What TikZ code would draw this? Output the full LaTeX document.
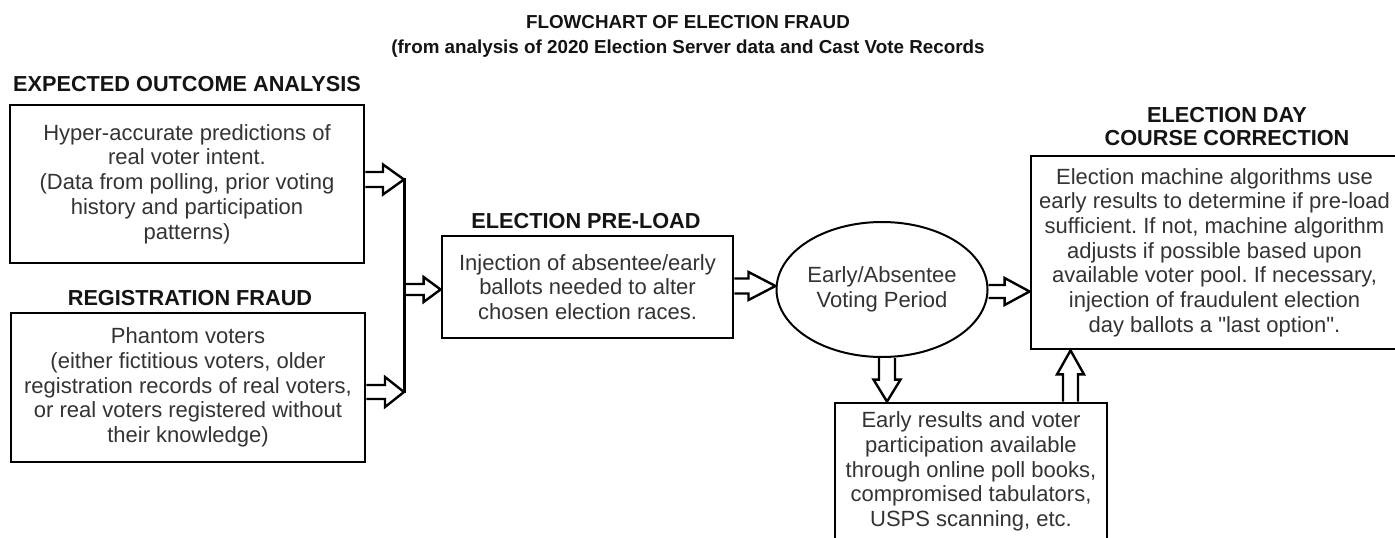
\documentclass[tikz,border=0pt]{standalone}
\usepackage{fontspec}
\setmainfont{Liberation Sans}[Ligatures=TeXOff]
\usetikzlibrary{shapes.geometric,calc}
\frenchspacing
\tikzset{
  box/.style={draw=black, line width=2.8pt, align=center, inner sep=0pt, text=black!80,
    font=\fontsize{22}{24.7}\selectfont},
  oval/.style={ellipse, draw=black, line width=2pt, align=center, inner sep=0pt, text=black!80,
    font=\fontsize{22}{24.7}\selectfont},
  hdr/.style={anchor=base, text=black!92, inner sep=0pt, font=\bfseries\fontsize{21.7}{24}\selectfont},
  ttl/.style={anchor=base, text=black!92, inner sep=0pt, font=\bfseries\fontsize{18.8}{24}\selectfont},
  barrow/.style={draw=black, line width=2.4pt, line join=miter},
  bus/.style={draw=black, line width=3pt},
}
% hollow block arrows: #1 start, #2 end, #3 shaft half width, #4 head half width, #5 head length
\newcommand\rblock[5]{\draw[barrow] let \p1=(#1), \p2=(#2) in
  (\x1,\y1+#3pt) -- (\x2-#5pt,\y1+#3pt) -- (\x2-#5pt,\y1+#4pt) -- (\x2,\y1)
  -- (\x2-#5pt,\y1-#4pt) -- (\x2-#5pt,\y1-#3pt) -- (\x1,\y1-#3pt);}
\newcommand\dblock[5]{\draw[barrow] let \p1=(#1), \p2=(#2) in
  (\x1-#3pt,\y1) -- (\x1-#3pt,\y2+#5pt) -- (\x1-#4pt,\y2+#5pt) -- (\x1,\y2)
  -- (\x1+#4pt,\y2+#5pt) -- (\x1+#3pt,\y2+#5pt) -- (\x1+#3pt,\y1);}
\newcommand\ublock[5]{\draw[barrow] let \p1=(#1), \p2=(#2) in
  (\x1-#3pt,\y1) -- (\x1-#3pt,\y2-#5pt) -- (\x1-#4pt,\y2-#5pt) -- (\x1,\y2)
  -- (\x1+#4pt,\y2-#5pt) -- (\x1+#3pt,\y2-#5pt) -- (\x1+#3pt,\y1);}
\begin{document}
\begin{tikzpicture}[x=1pt,y=-1pt]
\useasboundingbox (0,0) rectangle (1395,538);
\fill[white] (0,0) rectangle (1395,538);
\clip (0,0) rectangle (1395,538);

% titles
\node[ttl] (t1) at (688,28) {FLOWCHART OF ELECTION FRAUD};
\node[ttl] (t2) at (688,53) {(from analysis of 2020 Election Server data and Cast Vote Records};

% headers
\node[hdr] (h1) at (187,91.5) {EXPECTED OUTCOME ANALYSIS};
\node[hdr] (h2) at (190,305) {REGISTRATION FRAUD};
\node[hdr] (h3) at (586,228) {ELECTION PRE-LOAD};
\node[hdr] (h4a) at (1227,122) {ELECTION DAY};
\node[hdr] (h4b) at (1227,145) {COURSE CORRECTION};

% boxes
\node[box, minimum width=354pt, minimum height=158pt] (b1) at (187,184)
  {Hyper-accurate predictions of\\real voter intent.\\(Data from polling, prior voting\\history and participation\\patterns)};
\node[box, minimum width=354pt, minimum height=149pt] (b2) at (188,387.5)
  {Phantom voters\\(either fictitious voters, older\\registration records of real voters,\\or real voters registered without\\their knowledge)};
\node[box, minimum width=291pt, minimum height=102pt] (b3) at (587.5,287)
  {Injection of absentee/early\\ballots needed to alter\\chosen election races.};
\node[oval, minimum width=202pt, minimum height=135pt] (el) at (882,289.5)
  {Early/Absentee\\Voting Period};
\node[box, minimum width=367pt, minimum height=193pt] (b4) at (1214.5,252.5)
  {Election machine algorithms use\\early results to determine if pre-load\\sufficient. If not, machine algorithm\\adjusts if possible based upon\\available voter pool. If necessary,\\injection of fraudulent election\\day ballots a "last option".};
\node[box, minimum width=272pt, minimum height=137pt] (b5) at (971,471.5)
  {Early results and voter\\participation available\\through online poll books,\\compromised tabulators,\\USPS scanning, etc.};

% helper coordinates
\coordinate (bt) at (404,178);
\coordinate (bb) at (404,393);
\coordinate (ya1) at (0,179.5);
\coordinate (ya2) at (0,392);
\coordinate (ya3) at (0,289.5);
\coordinate (ya4) at (0,286);
\coordinate (ya5) at (0,291.5);
\coordinate (xa6) at (887,0);
\coordinate (xa7) at (1070.5,0);

% bus
\draw[bus] (bt) -- (bb);

% arrows
\rblock{b1.east |- ya1}{bt}{7.5}{15}{21}
\rblock{b2.east |- ya2}{bb}{7}{15}{19}
\rblock{bt |- ya3}{b3.west}{5.5}{12.5}{17}
\rblock{b3.east |- ya4}{el.west}{7.5}{14}{27}
\rblock{el.east |- ya5}{b4.west}{6.5}{13.5}{25}
\dblock{xa6 |- el.south}{b5.north}{8}{13.5}{22}
\ublock{xa7 |- b5.north}{b4.south}{7.5}{13.5}{24}
\end{tikzpicture}
\end{document}
